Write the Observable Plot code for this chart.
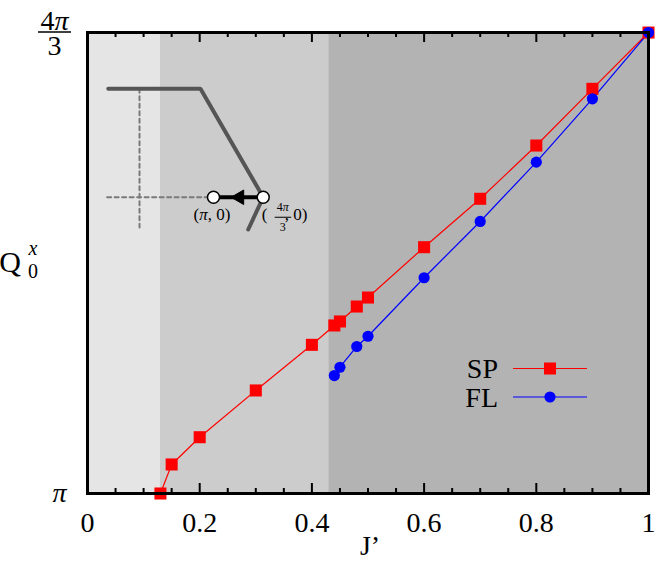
<!DOCTYPE html>
<html><head><meta charset="utf-8">
<script src="https://cdn.jsdelivr.net/npm/d3@7"></script>
<script src="https://cdn.jsdelivr.net/npm/@observablehq/plot@0.6"></script>
<style>
body{margin:0;background:#fff;}
#chart{position:relative;width:658px;height:562px;}
</style></head><body><div id="chart"></div>
<script>
// ---- data (Q in units of π) ----
const spJ = [0.13,0.15,0.2,0.3,0.4,0.44,0.45,0.48,0.5,0.6,0.7,0.8,0.9,1.0];
const spQ = [1.0,1.021,1.0407,1.0745,1.1075,1.1215,1.1244,1.1352,1.1417,1.1781,1.2131,1.2516,1.2926,1.3333];
const flJ = [0.44,0.45,0.48,0.5,0.6,0.7,0.8,0.9,1.0];
const flQ = [1.0853,1.0913,1.1063,1.1137,1.1560,1.1967,1.2396,1.2854,1.3333];
const regionStart = [0, 0.13, 0.43];
const regionEnd = [0.13, 0.43, 1];
const regionFill = ["#e5e5e5", "#cccccc", "#b3b3b3"];
const xMajor = [0, 0.2, 0.4, 0.6, 0.8, 1];
const xTickLabels = ["0", "0.2", "0.4", "0.6", "0.8", "1"];
const xMinor = [0.05,0.1,0.15,0.25,0.3,0.35,0.45,0.5,0.55,0.65,0.7,0.75,0.85,0.9,0.95];
// inset schematic (in data units)
const insetPathJ = [0.037, 0.2014, 0.3132, 0.2865];
const insetPathQ = [1.2926, 1.2926, 1.2142, 1.1909];
const insetVDashJ = [0.0927, 0.0927];
const insetVDashQ = [1.2926, 1.1923];
const insetHDashJ = [0.035, 0.2246];
const insetHDashQ = [1.2142, 1.2142];
const insetPointJ = [0.2246, 0.3132];
const insetPointQ = [1.2142, 1.2142];

const sp = spJ.map((j, i) => ({j, q: spQ[i]}));
const fl = flJ.map((j, i) => ({j, q: flQ[i]}));
const regions = regionStart.map((s, i) => ({s, e: regionEnd[i], f: regionFill[i]}));
const path = insetPathJ.map((j, i) => ({j, q: insetPathQ[i]}));
const vdash = insetVDashJ.map((j, i) => ({j, q: insetVDashQ[i]}));
const hdash = insetHDashJ.map((j, i) => ({j, q: insetHDashQ[i]}));
const pts = insetPointJ.map((j, i) => ({j, q: insetPointQ[i]}));

const FONT = "'Liberation Serif', 'DejaVu Serif', serif";
const plot = Plot.plot({
  width: 658, height: 562,
  marginLeft: 87, marginRight: 10, marginTop: 32, marginBottom: 69,
  x: {domain: [0, 1]},
  y: {domain: [1, 4/3]},
  color: {type: "identity"},
  style: {fontFamily: FONT, background: "white", color: "black"},
  marks: [
    Plot.rect(regions, {x1: "s", x2: "e", fill: "f"}),
    Plot.line(vdash, {x: "j", y: "q", stroke: "#7a7a7a", strokeWidth: 2, strokeDasharray: "4,3.5"}),
    Plot.line(hdash, {x: "j", y: "q", stroke: "#7a7a7a", strokeWidth: 2, strokeDasharray: "4,3.5"}),
    Plot.line(path, {x: "j", y: "q", stroke: "#555555", strokeWidth: 4, strokeLinejoin: "miter"}),
    Plot.line(pts, {x: "j", y: "q", stroke: "black", strokeWidth: 4}),
    Plot.dot([pts[0]], {x: "j", y: "q", dx: 26, symbol: "triangle", rotate: -90, r: 5.4, fill: "black", stroke: "black", strokeWidth: 1}),
    Plot.dot(pts, {x: "j", y: "q", r: 6, fill: "white", stroke: "black", strokeWidth: 1.5}),
    Plot.line(sp, {x: "j", y: "q", stroke: "#ff0000", strokeWidth: 1.2}),
    Plot.line(fl, {x: "j", y: "q", stroke: "#0000ff", strokeWidth: 1.2}),
    Plot.dot(sp, {x: "j", y: "q", symbol: "square", r: 6.8, fill: "#ff0000"}),
    Plot.dot(fl, {x: "j", y: "q", r: 5.6, fill: "#0000ff"}),
    Plot.tickX(xMajor, {x: d => d, insetTop: 451, stroke: "black", strokeWidth: 2}),
    Plot.tickX(xMajor, {x: d => d, insetBottom: 451, stroke: "black", strokeWidth: 2}),
    Plot.tickX(xMinor, {x: d => d, insetTop: 456, stroke: "black", strokeWidth: 2}),
    Plot.tickX(xMinor, {x: d => d, insetBottom: 456, stroke: "black", strokeWidth: 2}),
    Plot.frame({stroke: "black", strokeWidth: 3}),
    Plot.axisX({anchor: "bottom", ticks: xMajor, tickSize: 0, tickPadding: 19, fontSize: 28,
      tickFormat: d => xTickLabels[xMajor.indexOf(d)], label: null}),
    Plot.axisY({anchor: "left", ticks: [1], tickSize: 0, tickPadding: 21, fontSize: 28,
      fontStyle: "italic", tickFormat: () => "π", label: null})
  ]
});
document.getElementById("chart").appendChild(plot);

const svg = d3.select(plot);
const xs = plot.scale("x"), ys = plot.scale("y");
const X = v => xs.apply(v), Y = v => ys.apply(v);

// 4π/3 tick label as a stacked fraction
const yTop = Y(4/3), fx = 54.5;
const num = svg.append("text").attr("x", fx).attr("y", yTop - 2).attr("text-anchor", "middle").attr("font-size", 28);
num.append("tspan").text("4");
num.append("tspan").attr("font-style", "italic").text("π");
svg.append("line").attr("x1", fx - 16.5).attr("x2", fx + 16.5).attr("y1", yTop).attr("y2", yTop)
  .attr("stroke", "black").attr("stroke-width", 1.4);
svg.append("text").attr("x", fx).attr("y", yTop + 23).attr("text-anchor", "middle").attr("font-size", 28).text("3");

// y label Q_0^x
svg.append("text").attr("x", 10).attr("y", 272).attr("font-size", 30).text("Q");
svg.append("text").attr("x", 33).attr("y", 255).attr("font-size", 20).attr("font-style", "italic").text("x");
svg.append("text").attr("x", 33).attr("y", 278).attr("font-size", 20).text("0");

// x label
svg.append("text").attr("x", 370).attr("y", 555).attr("text-anchor", "middle").attr("font-size", 28).text("J’");

// inset labels
const p0x = X(insetPointJ[0]), p1x = X(insetPointJ[1]), py = Y(insetPointQ[0]);
const l0 = svg.append("text").attr("x", p0x - 1).attr("y", py + 23).attr("text-anchor", "middle").attr("font-size", 17);
l0.append("tspan").text("(");
l0.append("tspan").attr("font-style", "italic").text("π");
l0.append("tspan").text(", 0)");
svg.append("text").attr("x", p1x + 2).attr("y", py + 23).attr("font-size", 17).text("(");
const fn = svg.append("text").attr("x", p1x + 20).attr("y", py + 14.5).attr("text-anchor", "middle").attr("font-size", 12);
fn.append("tspan").text("4");
fn.append("tspan").attr("font-style", "italic").text("π");
svg.append("line").attr("x1", p1x + 12).attr("x2", p1x + 28.5).attr("y1", py + 20.5).attr("y2", py + 20.5)
  .attr("stroke", "black").attr("stroke-width", 1);
svg.append("text").attr("x", p1x + 20).attr("y", py + 34).attr("text-anchor", "middle").attr("font-size", 12).text("3");
svg.append("text").attr("x", p1x + 33.5).attr("y", py + 23).attr("font-size", 17).text(", 0)");

// legend
const leg = [{name: "SP", color: "#ff0000", sym: "square", y: 368.5}, {name: "FL", color: "#0000ff", sym: "circle", y: 397}];
leg.forEach(d => {
  svg.append("text").attr("x", 498).attr("y", d.y + 9.5).attr("text-anchor", "end").attr("font-size", 28).text(d.name);
  svg.append("line").attr("x1", 513).attr("x2", 587).attr("y1", d.y).attr("y2", d.y)
    .attr("stroke", d.color).attr("stroke-width", 1.2);
  if (d.sym === "square") svg.append("rect").attr("x", 544).attr("y", d.y - 6).attr("width", 12).attr("height", 12).attr("fill", d.color);
  else svg.append("circle").attr("cx", 550).attr("cy", d.y).attr("r", 5.6).attr("fill", d.color);
});

// force serif everywhere
svg.selectAll("text").style("font-family", FONT);
</script></body></html>
